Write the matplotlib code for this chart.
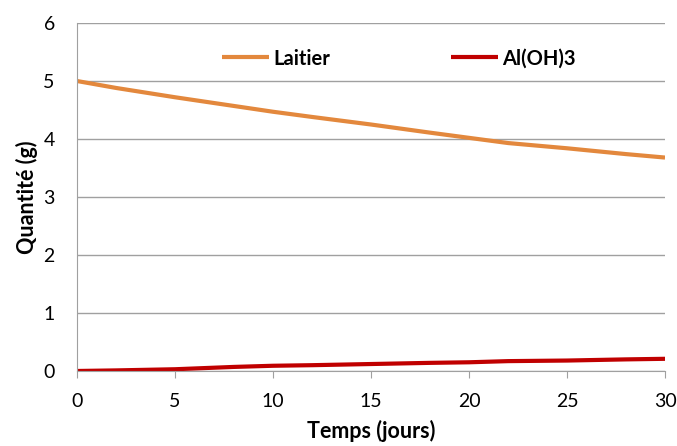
import matplotlib
matplotlib.use("Agg")
import matplotlib.pyplot as plt

# data
jours = [0, 2, 5, 8, 10, 12, 15, 18, 20, 22, 25, 28, 30]
laitier = [5.0, 4.88, 4.72, 4.57, 4.47, 4.38, 4.25, 4.11, 4.02, 3.93, 3.84, 3.74, 3.68]
aloh3 = [0.0, 0.01, 0.03, 0.07, 0.09, 0.10, 0.12, 0.14, 0.15, 0.17, 0.18, 0.20, 0.21]

x_ticks = [0, 5, 10, 15, 20, 25, 30]
y_ticks = [0, 1, 2, 3, 4, 5, 6]

plt.rcParams['font.family'] = ['Lato', 'DejaVu Sans']

fig = plt.figure(figsize=(6.77, 4.46), dpi=100)
ax = fig.add_axes([0.1137, 0.1682, 0.8686, 0.7802])

ax.plot(jours, laitier, color='#E3883D', linewidth=3, label='Laitier', solid_capstyle='butt')
ax.plot(jours, aloh3, color='#C00000', linewidth=3, label='Al(OH)3', solid_capstyle='butt')

# axes formatting, Excel style
ax.set_xlim(0, 30)
ax.set_ylim(0, 6)
ax.set_xticks(x_ticks)
ax.set_yticks(y_ticks)
ax.grid(True, axis='y', color='#A0A0A0', linewidth=1)
ax.set_axisbelow(True)
for side in ['top', 'right']:
    ax.spines[side].set_visible(False)
for side in ['left', 'bottom']:
    ax.spines[side].set_color('#A0A0A0')
ax.tick_params(axis='x', direction='out', length=5, color='#A0A0A0', labelsize=14, pad=11)
ax.tick_params(axis='y', length=0, labelsize=14, pad=16)

ax.set_xlabel('Temps (jours)', fontsize=15.5, fontweight='bold', labelpad=7)
ax.set_ylabel('Quantité (g)', fontsize=15.5, fontweight='bold', labelpad=4)

legend = ax.legend(loc='center', bbox_to_anchor=(0.547, 0.898), ncol=2, frameon=False,
                   handlelength=2.33, handletextpad=0.2, columnspacing=6.0,
                   prop={'weight': 'bold', 'size': 14.5})

plt.savefig("out.png", dpi=100)
